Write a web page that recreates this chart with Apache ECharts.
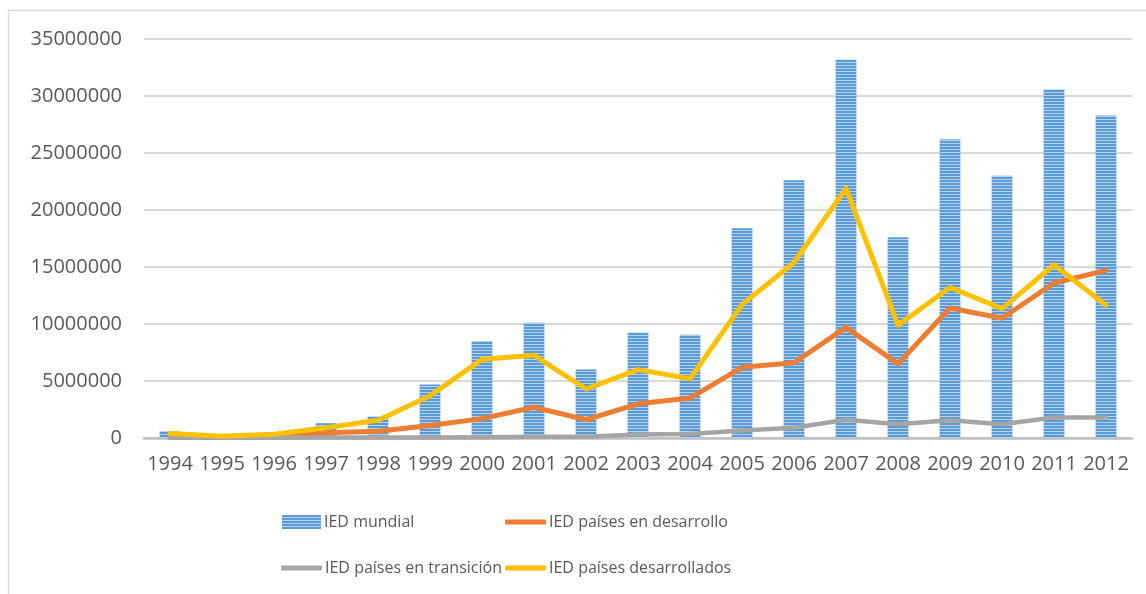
<!DOCTYPE html>
<html>
<head>
<meta charset="utf-8">
<script src="https://cdn.jsdelivr.net/npm/echarts@6/dist/echarts.min.js"></script>
<style>html,body{margin:0;padding:0;background:#fff}#c{width:1146px;height:594px}</style>
</head>
<body>
<div id="c"></div>
<script>
const years = ['1994','1995','1996','1997','1998','1999','2000','2001','2002','2003','2004','2005','2006','2007','2008','2009','2010','2011','2012'];
const iedMundial = [600000,300000,350000,1300000,1900000,4700000,8500000,10100000,6000000,9250000,9050000,18400000,22600000,33200000,17600000,26200000,23000000,30600000,28300000];
const iedDesarrollo = [100000,100000,200000,450000,600000,1100000,1700000,2700000,1600000,3000000,3500000,6200000,6600000,9700000,6500000,11400000,10500000,13600000,14700000];
const iedTransicion = [0,20000,30000,40000,50000,50000,60000,100000,100000,300000,350000,650000,900000,1600000,1200000,1550000,1200000,1800000,1800000];
const iedDesarrollados = [400000,150000,330000,900000,1550000,3700000,6900000,7250000,4300000,6000000,5200000,11700000,15400000,21900000,9900000,13200000,11350000,15200000,11650000];
const yTicks = [0,5000000,10000000,15000000,20000000,25000000,30000000,35000000];

const cv = document.createElement('canvas');
cv.width = 4; cv.height = 3;
const cx = cv.getContext('2d');
cx.fillStyle = '#5B9BD5'; cx.fillRect(0,0,4,2);
cx.fillStyle = '#B4D1EE'; cx.fillRect(0,2,4,1);
const stripe = {image: cv, repeat: 'repeat'};

const FONT = '"Open Sans", "Noto Sans", sans-serif';
const TXT = '#595959';
const chart = echarts.init(document.getElementById('c'), null, {renderer:'canvas'});
function leg(name, left, top, w, h, icon){
  return {data:[name], left:left, top:top, padding:0, itemWidth:w, itemHeight:h, icon:icon, itemGap:0,
    textStyle:{color:TXT, fontSize:16, fontFamily:FONT, padding:[0,0,0,-2]}, selectedMode:false};
}
chart.setOption({
  animation:false,
  backgroundColor:'#fff',
  graphic:[{type:'rect', shape:{x:8.5, y:10.5, width:1300, height:800}, style:{fill:null, stroke:'#D9D9D9', lineWidth:1.5}, silent:true}],
  grid:{left:144, right:14, top:39, bottom:156},
  legend:[
    leg('IED mundial', 282, 514, 39, 14, 'rect'),
    leg('IED países en desarrollo', 505, 514, 41, 5, 'roundRect'),
    leg('IED países en transición', 281, 560, 41, 5, 'roundRect'),
    leg('IED países desarrollados', 505, 560, 41, 5, 'roundRect')
  ],
  xAxis:{type:'category', data:years, boundaryGap:true,
    axisLine:{lineStyle:{color:'#BFBFBF', width:2.5}}, axisTick:{show:false},
    axisLabel:{color:TXT, fontSize:20, fontFamily:FONT, margin:16, interval:0}},
  yAxis:{type:'value', min:0, max:35000000, interval:5000000,
    axisLine:{show:false}, axisTick:{show:false},
    splitLine:{lineStyle:{color:'#D9D9D9', width:2}},
    axisLabel:{color:TXT, fontSize:20, fontFamily:FONT, margin:22, formatter:v=>String(v)}},
  series:[
    {name:'IED mundial', type:'bar', data:iedMundial, barWidth:'40%', itemStyle:{color:stripe}},
    {name:'IED países en desarrollo', type:'line', data:iedDesarrollo, symbol:'none', lineStyle:{color:'#ED7D31', width:5, cap:'round', join:'round'}, itemStyle:{color:'#ED7D31'}},
    {name:'IED países en transición', type:'line', data:iedTransicion, symbol:'none', lineStyle:{color:'#A5A5A5', width:4.5, cap:'round', join:'round'}, itemStyle:{color:'#A5A5A5'}},
    {name:'IED países desarrollados', type:'line', data:iedDesarrollados, symbol:'none', lineStyle:{color:'#FFC000', width:5, cap:'round', join:'round'}, itemStyle:{color:'#FFC000'}}
  ]
});
</script>
</body>
</html>
